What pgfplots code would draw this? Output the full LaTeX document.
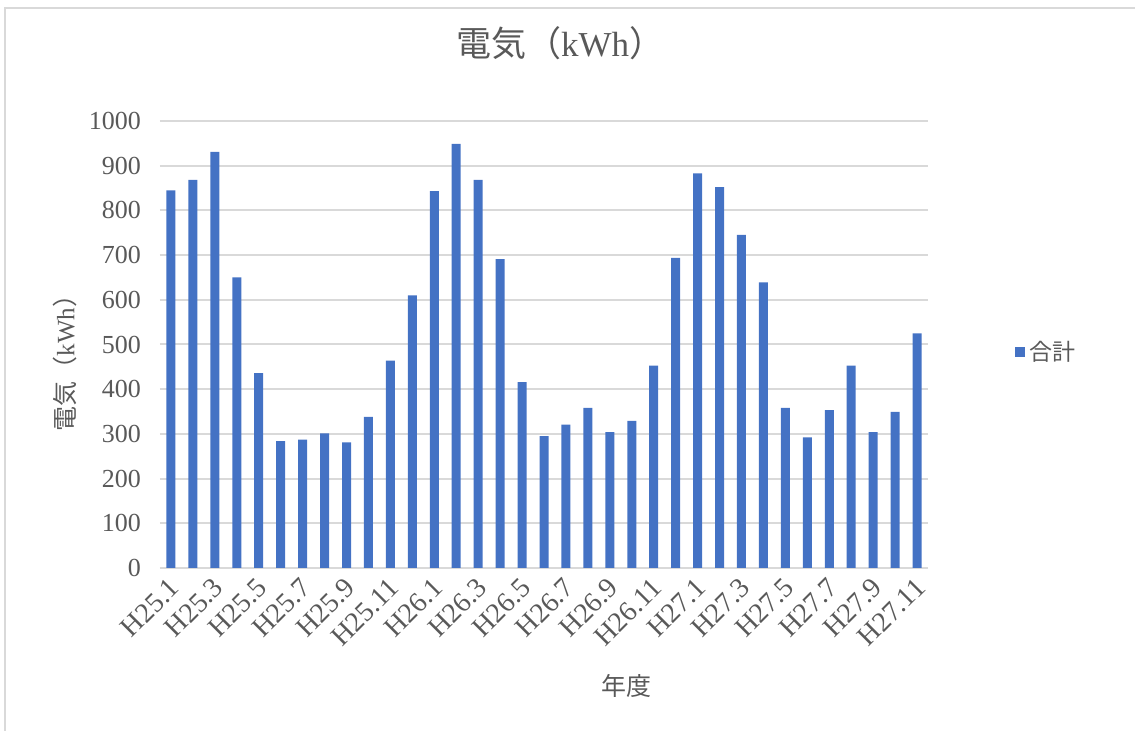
\documentclass[border=0pt]{standalone}
\usepackage{pgfplots}
\pgfplotsset{compat=1.18}
\usepackage{fontspec}
\setmainfont{Liberation Serif}
\newfontfamily\cjk{Noto Sans CJK JP}
\definecolor{barblue}{HTML}{4472C4}
\definecolor{txt}{HTML}{595959}
\definecolor{gridc}{HTML}{D9D9D9}
\begin{document}
\begin{tikzpicture}
\begin{axis}[
  scale only axis, width=384pt, height=223.5pt,
  xmin=-0.5, xmax=34.5, ymin=0, ymax=1000,
  ytick={0,100,...,1000},
  xtick={0,2,...,34},
  xticklabels={H25.1,H25.3,H25.5,H25.7,H25.9,H25.11,H26.1,H26.3,H26.5,H26.7,H26.9,H26.11,H27.1,H27.3,H27.5,H27.7,H27.9,H27.11},
  /pgf/number format/assume math mode=true,
  /pgf/number format/1000 sep={},
  axis line style={draw=none},
  tick style={draw=none},
  ymajorgrids, major grid style={gridc, line width=1pt},
  ybar, bar width=0.41,
  yticklabel style={font=\fontsize{13}{15}\selectfont, text=txt, xshift=-6pt},
  xticklabel style={font=\fontsize{14}{16}\selectfont, text=txt, rotate=45, anchor=east, xshift=2.5pt, yshift=-3.5pt},
  title={{\cjk 電気（}kWh{\cjk ）}},
  title style={font=\fontsize{17.5}{21}\selectfont, text=txt, at={(axis description cs:0.521,1.148)}, anchor=center},
  xlabel={{\cjk 年度}},
  xlabel style={font=\fontsize{12.5}{15}\selectfont, text=txt, at={(axis description cs:0.608,-0.264)}, anchor=center},
  ylabel={{\cjk 電気（}kWh{\cjk ）}},
  ylabel style={font=\fontsize{12.5}{15}\selectfont, text=txt, at={(axis description cs:-0.124,0.472)}, anchor=center, rotate=0},
  legend style={draw=none, at={(axis description cs:1.105,0.483)}, anchor=west, font=\fontsize{11.5}{14}\selectfont, text=txt},
  legend image code/.code={\fill[barblue] (0pt,-2.6pt) rectangle (5.2pt,2.6pt);},
]
\addplot[fill=barblue, draw=none] coordinates {
(0,845) (1,868) (2,931) (3,650) (4,436) (5,284) (6,287) (7,301) (8,281) (9,338)
(10,464) (11,610) (12,843) (13,949) (14,868) (15,691) (16,416) (17,295) (18,321) (19,358)
(20,304) (21,329) (22,453) (23,694) (24,883) (25,852) (26,745) (27,639) (28,358) (29,292)
(30,353) (31,453) (32,304) (33,349) (34,525)
};
\addlegendentry{{\cjk 合計}}
\coordinate (sw) at (rel axis cs:0,0);
\end{axis}
\draw[gridc, line width=0.75pt] ([shift={(-77.5pt,-81.5pt)}]sw) -- ++(0,361.5pt) -- ++(565pt,0);
\pgfresetboundingbox
\path ([shift={(-80pt,-81.5pt)}]sw) rectangle ++(567.5pt,365.5pt);
\end{tikzpicture}
\end{document}
